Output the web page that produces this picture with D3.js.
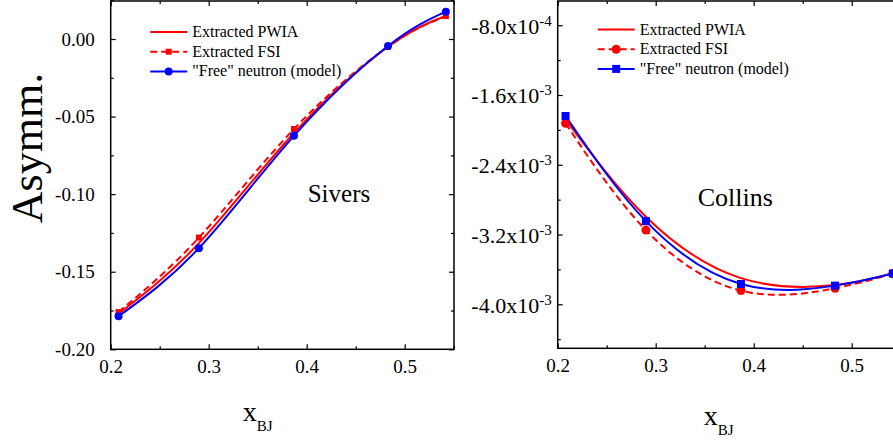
<!DOCTYPE html>
<html>
<head>
<meta charset="utf-8">
<script src="https://cdn.jsdelivr.net/npm/d3@7"></script>
<style>
  body { margin: 0; background: #fff; }
  svg text { font-family: "Liberation Serif", "Times New Roman", serif !important; fill: #000; }
</style>
</head>
<body>
<svg id="chart" width="893" height="445"></svg>
<script>
// ---- data ----
const xBJ = [0.208, 0.290, 0.387, 0.483, 0.542];

// Sivers panel
const sivPWIA = [-0.1770, -0.1316, -0.0606, -0.0050, 0.0148];
const sivFSI  = [-0.1760, -0.1280, -0.0580, -0.0050, 0.0148];
const sivFree = [-0.1787, -0.1348, -0.0624, -0.0045, 0.0176];
const sivTicks = [0.00, -0.05, -0.10, -0.15, -0.20];
const sivMinor = [0.025, -0.025, -0.075, -0.125, -0.175];

// Collins panel
const colPWIA = [-1.880e-3, -2.996e-3, -3.700e-3, -3.780e-3, -3.645e-3];
const colFSI  = [-1.925e-3, -3.149e-3, -3.843e-3, -3.816e-3, -3.647e-3];
const colFree = [-1.841e-3, -3.046e-3, -3.767e-3, -3.786e-3, -3.647e-3];
const colTicks = [-8.0e-4, -1.6e-3, -2.4e-3, -3.2e-3, -4.0e-3];
const colTickMant = ["-8.0x10", "-1.6x10", "-2.4x10", "-3.2x10", "-4.0x10"];
const colTickExp  = ["-4", "-3", "-3", "-3", "-3"];
const colMinor = [-1.2e-3, -2.0e-3, -2.8e-3, -3.6e-3, -4.4e-3];

const xTicks = [0.2, 0.3, 0.4, 0.5];
const xMinor = [0.25, 0.35, 0.45, 0.55];
const legendLabels = ["Extracted PWIA", "Extracted FSI", "\"Free\" neutron (model)"];

const RED = "#ff0000", BLUE = "#0000ff";
const svg = d3.select("#chart");
const hyph = f => d => f(d).replace("\u2212", "-");

function panel(opt) {
  const g = svg.append("g").attr("transform", `translate(${opt.left},${opt.top})`);
  const w = opt.width, h = opt.height;
  const x = d3.scaleLinear().domain([0.2, 0.5503]).range([0, w]);
  const y = d3.scaleLinear().domain(opt.yDomain).range([h, 0]);

  const clipId = "clip" + opt.id;
  g.append("clipPath").attr("id", clipId).append("rect")
    .attr("x", -6).attr("y", -6).attr("width", w + 12).attr("height", h + 12);

  // axes with inward ticks
  const xb = g.append("g").attr("transform", `translate(0,${h})`)
    .call(d3.axisBottom(x).tickValues(xTicks).tickSize(-5).tickPadding(10)
      .tickFormat(d3.format(".1f")));
  g.append("g").attr("transform", `translate(0,${h})`)
    .call(d3.axisBottom(x).tickValues(xMinor).tickSize(-3).tickFormat(""));
  g.append("g").call(d3.axisTop(x).tickValues(xTicks).tickSize(-5).tickFormat(""));
  g.append("g").call(d3.axisTop(x).tickValues(xMinor).tickSize(-3).tickFormat(""));

  const yl = g.append("g")
    .call(d3.axisLeft(y).tickValues(opt.yTicks).tickSize(-5).tickPadding(opt.yPad)
      .tickFormat(opt.yFormat || null));
  g.append("g").call(d3.axisLeft(y).tickValues(opt.yMinor).tickSize(-3).tickFormat(""));
  g.append("g").attr("transform", `translate(${w},0)`)
    .call(d3.axisRight(y).tickValues(opt.yTicks).tickSize(-5).tickFormat(""));
  g.append("g").attr("transform", `translate(${w},0)`)
    .call(d3.axisRight(y).tickValues(opt.yMinor).tickSize(-3).tickFormat(""));

  g.selectAll(".domain").remove();
  g.selectAll(".tick line").attr("stroke", "#000").attr("stroke-width", 1.2);
  xb.selectAll(".tick text").attr("font-size", 19);
  yl.selectAll(".tick text").attr("font-size", opt.yFont);
  if (opt.yLabelFn) opt.yLabelFn(yl);

  // frame
  g.append("rect").attr("width", w).attr("height", h)
    .attr("fill", "none").attr("stroke", "#000").attr("stroke-width", 1.5);

  const line = d3.line().x(d => x(d[0])).y(d => y(d[1])).curve(d3.curveNatural);
  const plot = g.append("g").attr("clip-path", `url(#${clipId})`);
  const zip = v => xBJ.map((xx, i) => [xx, v[i]]);

  plot.append("path").datum(zip(opt.pwia)).attr("d", line)
    .attr("fill", "none").attr("stroke", RED).attr("stroke-width", 2);
  plot.append("path").datum(zip(opt.fsi)).attr("d", line)
    .attr("fill", "none").attr("stroke", RED).attr("stroke-width", 2).attr("stroke-dasharray", "7,4");
  plot.append("path").datum(zip(opt.free)).attr("d", line)
    .attr("fill", "none").attr("stroke", BLUE).attr("stroke-width", 2);

  function marker(sel, shape, size, color) {
    if (shape === "circle") {
      sel.append("circle").attr("r", size).attr("fill", color);
    } else {
      sel.append("rect").attr("x", -size).attr("y", -size)
        .attr("width", 2 * size).attr("height", 2 * size).attr("fill", color);
    }
  }
  plot.selectAll(".mf").data(zip(opt.fsi)).enter().append("g")
    .attr("transform", d => `translate(${x(d[0])},${y(d[1])})`)
    .each(function () { marker(d3.select(this), opt.fsiShape, opt.fsiSize, RED); });
  plot.selectAll(".mb").data(zip(opt.free)).enter().append("g")
    .attr("transform", d => `translate(${x(d[0])},${y(d[1])})`)
    .each(function () { marker(d3.select(this), opt.freeShape, opt.freeSize, BLUE); });

  // legend
  const lg = g.append("g").attr("transform", `translate(${opt.legX},${opt.legY})`);
  const styles = [
    { c: RED, dash: null, shape: null },
    { c: RED, dash: "7,4", shape: opt.fsiShape, s: opt.fsiSize },
    { c: BLUE, dash: null, shape: opt.freeShape, s: opt.freeSize }
  ];
  legendLabels.forEach((lab, i) => {
    const row = lg.append("g").attr("transform", `translate(0,${i * 19.7})`);
    row.append("line").attr("x1", 0).attr("x2", 37).attr("stroke", styles[i].c)
      .attr("stroke-width", 2).attr("stroke-dasharray", styles[i].dash);
    if (styles[i].shape) {
      const m = row.append("g").attr("transform", "translate(18.5,0)");
      marker(m, styles[i].shape, styles[i].s, styles[i].c);
    }
    row.append("text").attr("x", 42).attr("y", 5).attr("font-size", 16).text(lab);
  });

  g.append("text").attr("x", opt.nameX).attr("y", opt.nameY)
    .attr("font-size", opt.nameSize).text(opt.name);

  // x axis title
  const xt = g.append("text").attr("x", opt.xtX).attr("y", opt.xtY);
  xt.append("tspan").attr("font-size", 28).text("x");
  xt.append("tspan").attr("font-size", 15).attr("dy", 10).text("BJ");
}

// Sivers
panel({
  id: "s", left: 110.7, top: 1, width: 343.3, height: 348.3,
  yDomain: [-0.2, 0.0245], yTicks: sivTicks, yMinor: sivMinor,
  yFormat: hyph(d3.format(".2f")), yPad: 16, yFont: 19,
  pwia: sivPWIA, fsi: sivFSI, free: sivFree,
  fsiShape: "rect", fsiSize: 3, freeShape: "circle", freeSize: 4,
  legX: 39.5, legY: 31, name: "Sivers", nameX: 197, nameY: 201, nameSize: 25,
  xtX: 132, xtY: 420
});

// Collins
panel({
  id: "c", left: 557.7, top: 1, width: 343.3, height: 347.3,
  yDomain: [-4.5046e-3, -0.5221e-3], yTicks: colTicks, yMinor: colMinor,
  yPad: 6, yFont: 22,
  yLabelFn: ax => {
    ax.selectAll(".tick text").each(function (d, i) {
      const t = d3.select(this).text(null).attr("dy", "0.36em");
      t.append("tspan").text(colTickMant[i]);
      t.append("tspan").attr("font-size", 15).attr("dy", -8).text(colTickExp[i]);
    });
  },
  pwia: colPWIA, fsi: colFSI, free: colFree,
  fsiShape: "circle", fsiSize: 4.5, freeShape: "rect", freeSize: 4,
  legX: 40, legY: 28.5, name: "Collins", nameX: 140, nameY: 205, nameSize: 26,
  xtX: 146, xtY: 424
});

// shared y title
svg.append("text").attr("transform", "translate(42,148) rotate(-90)")
  .attr("text-anchor", "middle").attr("font-size", 44).text("Asymm.");
</script>
</body>
</html>
